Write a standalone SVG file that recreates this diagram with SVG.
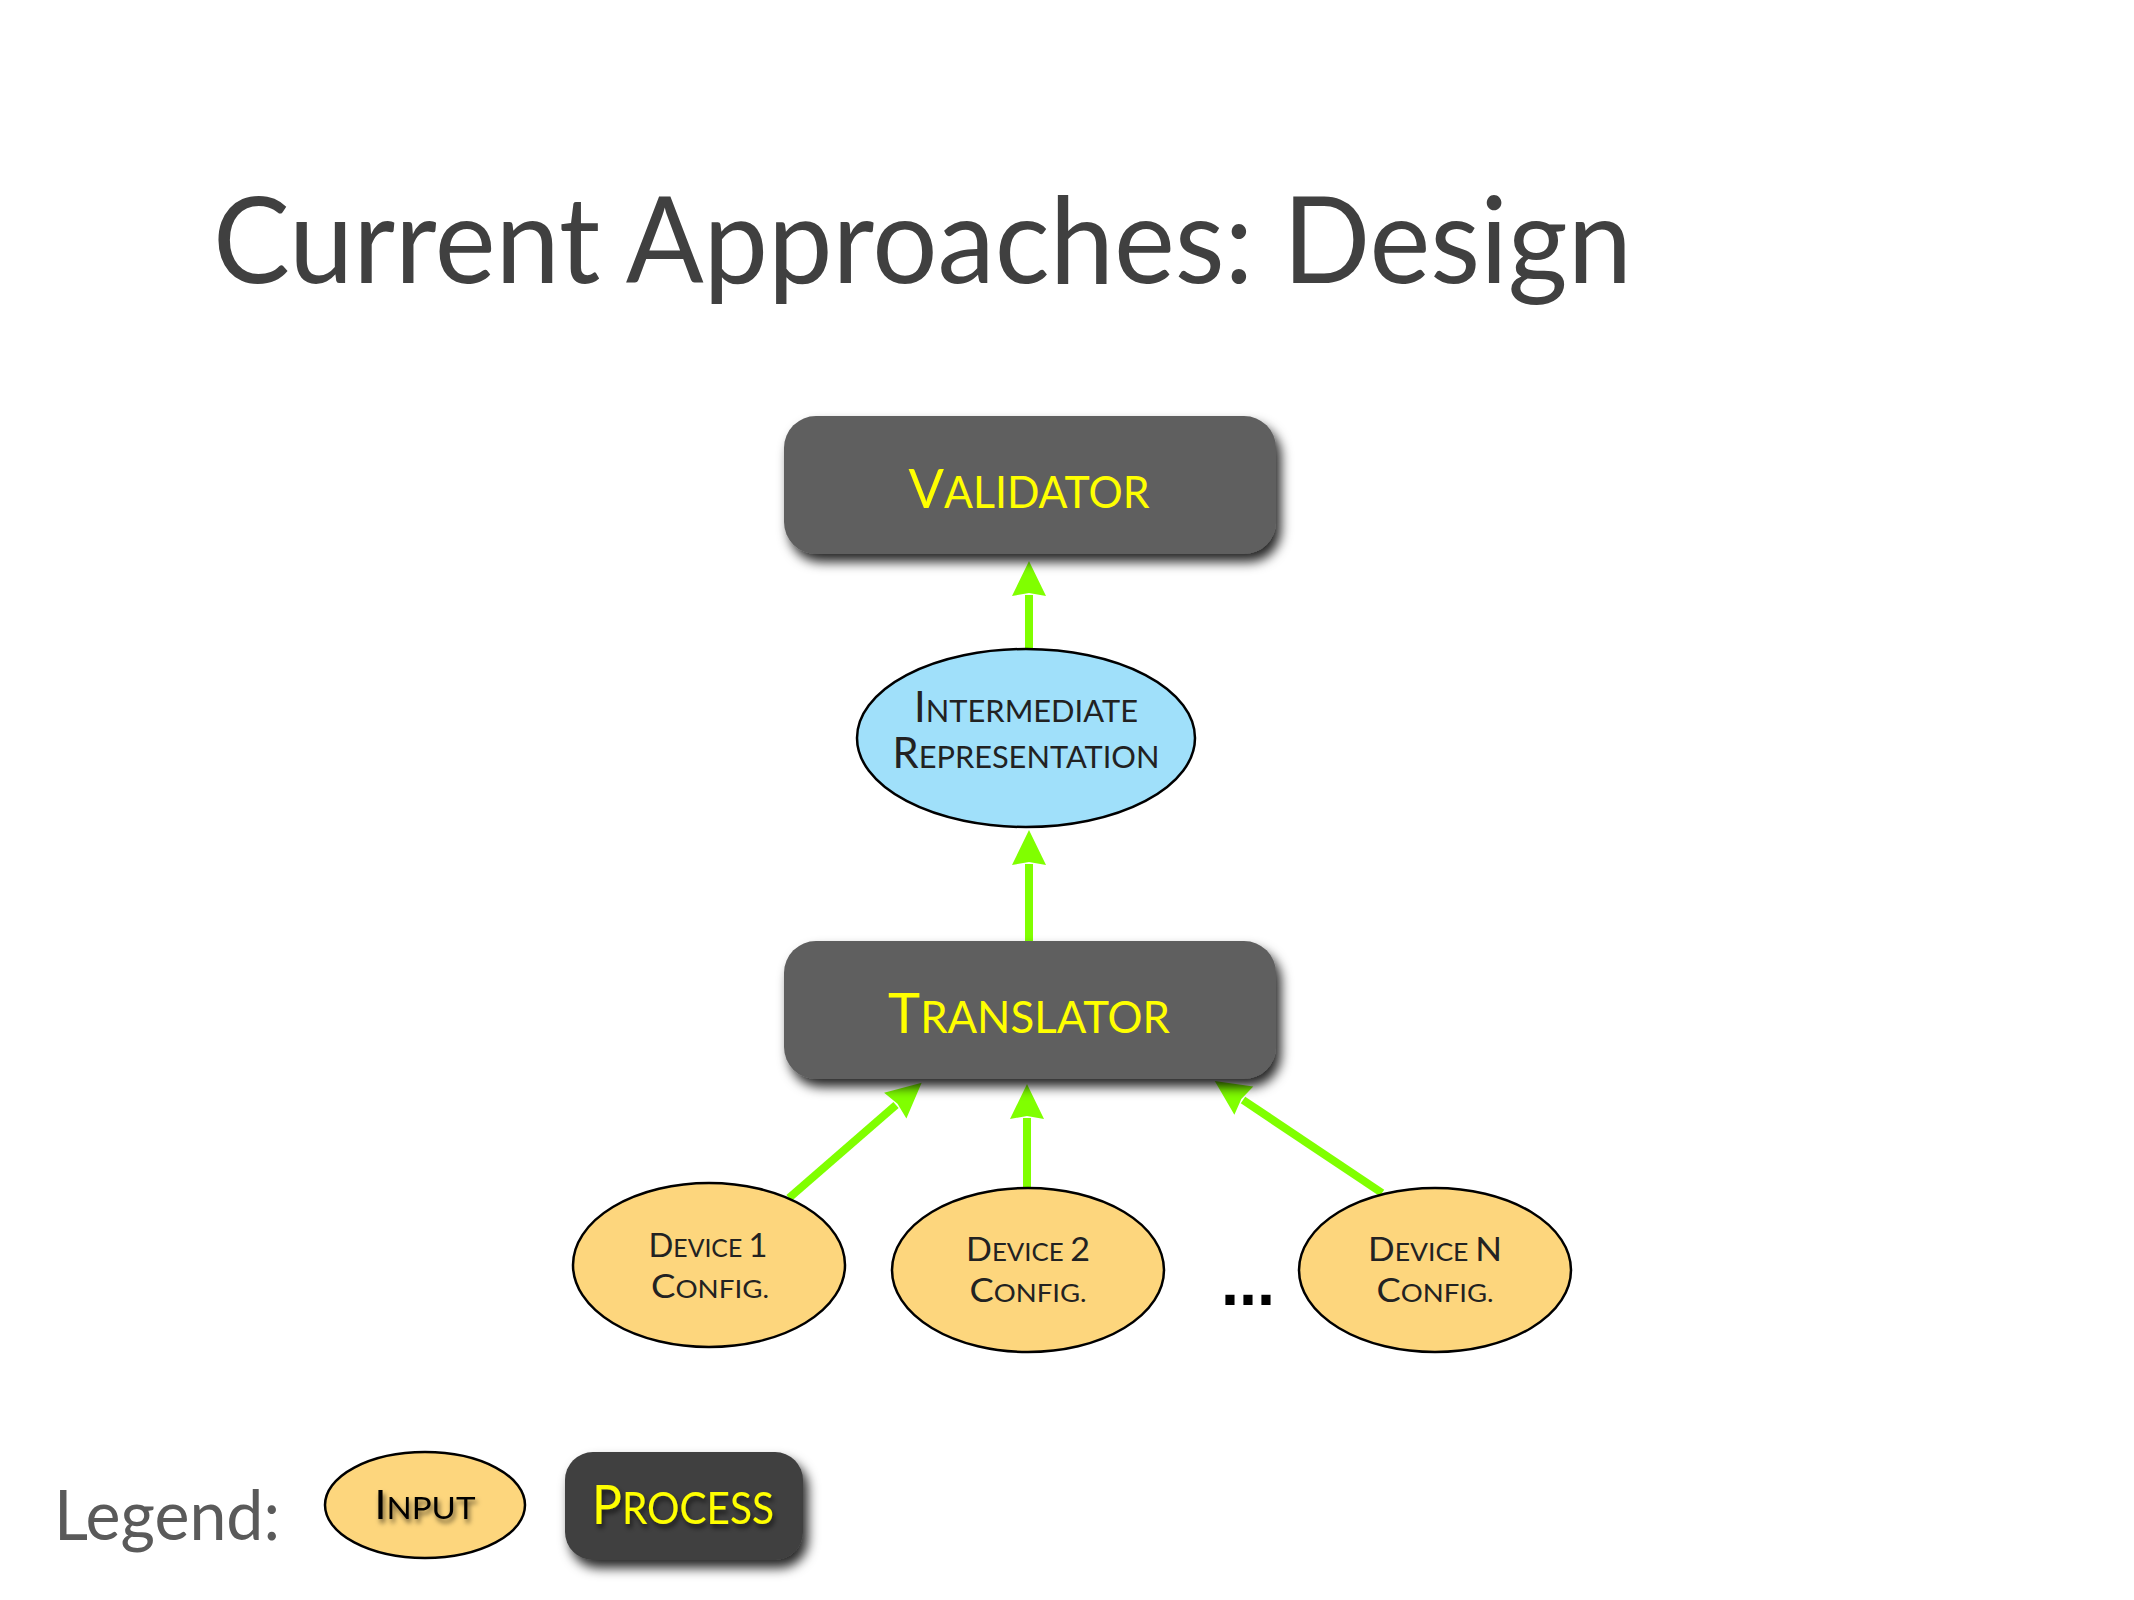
<svg xmlns="http://www.w3.org/2000/svg" width="2134" height="1600" viewBox="0 0 2134 1600">
<defs>
<filter id="boxShadow" x="-20%" y="-20%" width="150%" height="160%">
<feDropShadow dx="5" dy="8" stdDeviation="6" flood-color="#000" flood-opacity="0.85"/>
</filter>
<filter id="textShadow" x="-20%" y="-30%" width="140%" height="170%">
<feDropShadow dx="2" dy="4" stdDeviation="2.5" flood-color="#000" flood-opacity="0.6"/>
</filter>
<marker id="arrow" markerUnits="userSpaceOnUse" markerWidth="36" markerHeight="36" viewBox="0 -18 36 36" refX="0" refY="0" orient="auto" overflow="visible">
<path d="M-1,-17 L34,0 L-1,17 L2,0 z" fill="#80ff00"/>
</marker>
<style>
.title{font-family:Lato,"Open Sans","Liberation Sans",sans-serif;font-size:120px;fill:#404040;}
.legend{font-family:Lato,"Open Sans","Liberation Sans",sans-serif;font-size:70px;fill:#5a5a5a;}
.proc{fill:#5f5f5f;filter:url(#boxShadow);}
.proclabel{font-family:Lato,"Open Sans","Liberation Sans",sans-serif;fill:#ffff00;text-anchor:middle;}
.inp{fill:#fdd67d;stroke:#000;stroke-width:2.5;}
.ir{fill:#a0e0fa;stroke:#000;stroke-width:2.5;}
.dark{font-family:Lato,"Open Sans","Liberation Sans",sans-serif;fill:#222;text-anchor:middle;}
.conn{stroke:#80ff00;stroke-width:8;fill:none;marker-end:url(#arrow);}
</style>
</defs>
<rect width="2134" height="1600" fill="#fff"/>
<text class="title" x="213" y="283" textLength="1419" lengthAdjust="spacingAndGlyphs">Current Approaches: Design</text>

<g id="connectors">
<line class="conn" x1="1029" y1="651" x2="1029" y2="595"/>
<line class="conn" x1="1029" y1="943" x2="1029" y2="864"/>
<line class="conn" x1="1027" y1="1190" x2="1027" y2="1118"/>
<line class="conn" x1="789" y1="1198" x2="896" y2="1105"/>
<line class="conn" x1="1382" y1="1193" x2="1243" y2="1100"/>
</g>

<g id="validator">
<rect class="proc" x="784" y="416" width="492" height="138" rx="32"/>
<text class="proclabel" x="1029" y="508" textLength="241" lengthAdjust="spacingAndGlyphs"><tspan font-size="54">V</tspan><tspan font-size="44">ALIDATOR</tspan></text>
</g>

<g id="intermediate">
<ellipse class="ir" cx="1026" cy="738" rx="169" ry="89"/>
<text class="dark" x="1026" y="722" textLength="224" lengthAdjust="spacingAndGlyphs"><tspan font-size="42">I</tspan><tspan font-size="31">NTERMEDIATE</tspan></text>
<text class="dark" x="1026" y="768" textLength="267" lengthAdjust="spacingAndGlyphs"><tspan font-size="42">R</tspan><tspan font-size="31">EPRESENTATION</tspan></text>
</g>

<g id="translator">
<rect class="proc" x="784" y="941" width="492" height="138" rx="32"/>
<text class="proclabel" x="1029" y="1033" textLength="282" lengthAdjust="spacingAndGlyphs"><tspan font-size="56">T</tspan><tspan font-size="45">RANSLATOR</tspan></text>
</g>

<g id="device1">
<ellipse class="inp" cx="709" cy="1265" rx="136" ry="82"/>
<text class="dark" x="708" y="1257" textLength="119" lengthAdjust="spacingAndGlyphs"><tspan font-size="33">D</tspan><tspan font-size="25">EVICE </tspan><tspan font-size="33">1</tspan></text>
<text class="dark" x="710" y="1298" textLength="118" lengthAdjust="spacingAndGlyphs"><tspan font-size="33">C</tspan><tspan font-size="25">ONFIG.</tspan></text>
</g>

<g id="device2">
<ellipse class="inp" cx="1028" cy="1270" rx="136" ry="82"/>
<text class="dark" x="1028" y="1261" textLength="124" lengthAdjust="spacingAndGlyphs"><tspan font-size="33">D</tspan><tspan font-size="25">EVICE </tspan><tspan font-size="33">2</tspan></text>
<text class="dark" x="1028" y="1302" textLength="117" lengthAdjust="spacingAndGlyphs"><tspan font-size="33">C</tspan><tspan font-size="25">ONFIG.</tspan></text>
</g>

<g id="ellipsis">
<text x="1221" y="1305" font-family="'Liberation Sans',sans-serif" font-weight="bold" font-size="68" fill="#000" textLength="54" lengthAdjust="spacingAndGlyphs">...</text>
</g>

<g id="deviceN">
<ellipse class="inp" cx="1435" cy="1270" rx="136" ry="82"/>
<text class="dark" x="1435" y="1261" textLength="134" lengthAdjust="spacingAndGlyphs"><tspan font-size="33">D</tspan><tspan font-size="25">EVICE </tspan><tspan font-size="33">N</tspan></text>
<text class="dark" x="1435" y="1302" textLength="117" lengthAdjust="spacingAndGlyphs"><tspan font-size="33">C</tspan><tspan font-size="25">ONFIG.</tspan></text>
</g>

<g id="legend">
<text class="legend" x="54" y="1540" textLength="226" lengthAdjust="spacingAndGlyphs">Legend:</text>
<g id="legend-input">
<ellipse class="inp" cx="425" cy="1505" rx="100" ry="53"/>
<text class="dark" x="425" y="1519" filter="url(#textShadow)" textLength="101" lengthAdjust="spacingAndGlyphs" style="fill:#000"><tspan font-size="40">I</tspan><tspan font-size="31">NPUT</tspan></text>
</g>
<g id="legend-process">
<rect x="565" y="1452" width="238" height="108" rx="28" fill="#404040" filter="url(#boxShadow)"/>
<text class="proclabel" x="683" y="1524" filter="url(#textShadow)" textLength="182" lengthAdjust="spacingAndGlyphs"><tspan font-size="54">P</tspan><tspan font-size="44">ROCESS</tspan></text>
</g>
</g>
</svg>
